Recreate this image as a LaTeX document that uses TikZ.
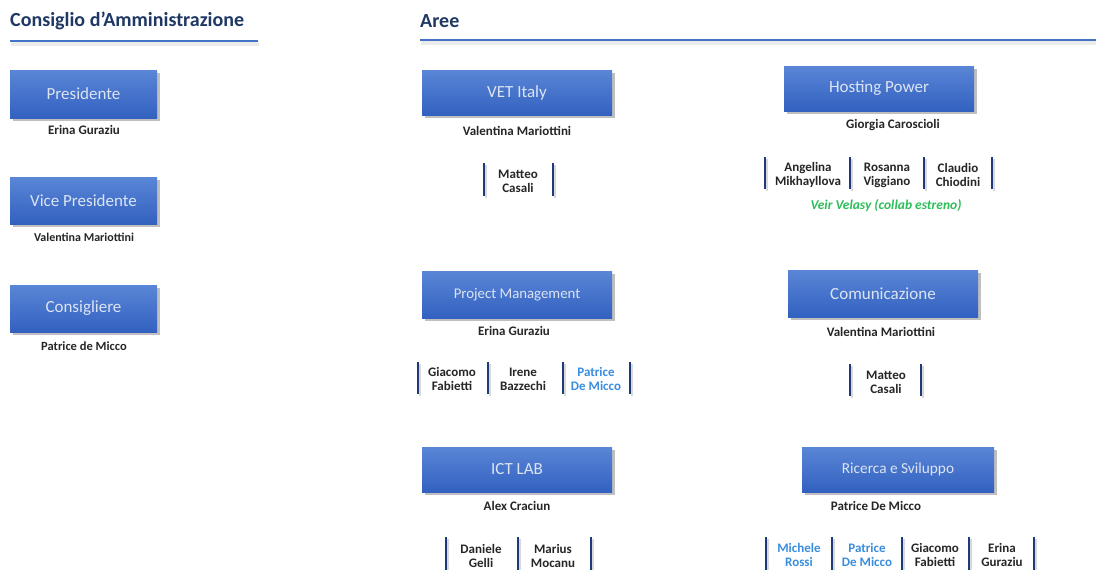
\documentclass[tikz,border=0pt]{standalone}
\usepackage{fontspec}
\setmainfont{Carlito}
\usetikzlibrary{shadows}
\definecolor{BoxTop}{HTML}{5A86D6}
\definecolor{BoxBot}{HTML}{3261C0}
\definecolor{BoxText}{HTML}{DCE4F2}
\definecolor{TitleCol}{HTML}{1F3864}
\definecolor{LineCol}{HTML}{4472C4}
\definecolor{BarCol}{HTML}{1F3A7A}
\definecolor{NameCol}{HTML}{262626}
\definecolor{BlueName}{HTML}{3A8DDE}
\definecolor{GreenName}{HTML}{2DBE5A}
\tikzset{
  areabox/.style={draw=none, top color=BoxTop, bottom color=BoxBot, text=BoxText,
    font=\fontsize{17}{19}\selectfont, inner sep=0pt,
    drop shadow={shadow xshift=2.5pt, shadow yshift=-2.5pt, fill=black, opacity=0.25}},
  who/.style={text=NameCol, font=\fontsize{13}{14}\bfseries\selectfont, inner sep=0pt},
  mem/.style={text=NameCol, font=\fontsize{13}{14}\bfseries\selectfont, inner sep=0pt, align=center},
  memblue/.style={mem, text=BlueName},
  bar/.style={draw=BarCol, line width=2.4pt},
  barshadow/.style={draw=black, opacity=0.15, line width=2.4pt},
  title/.style={text=TitleCol, font=\fontsize{20}{22}\bfseries\selectfont, inner sep=0pt, anchor=west},
  rule/.style={draw=LineCol, line width=2pt},
  ruleshadow/.style={draw=black, opacity=0.08, line width=4pt},
}
\newcommand{\membar}[3]{%
  \draw[barshadow] (#1+2,#2+2) -- (#1+2,#3+2);
  \draw[bar] (#1,#2) -- (#1,#3);}
\begin{document}
\begin{tikzpicture}[x=1pt,y=-1pt]
\useasboundingbox[fill=white] (0,0) rectangle (1096,570);

% titles
\node[title] (t1) at (10,21) {Consiglio d’Amministrazione};
\node[title] (t2) at (420,21) {Aree};
\draw[ruleshadow] (11,44) -- (259,44);
\draw[rule] (10,41) -- (258,41);
\draw[ruleshadow] (421,43) -- (1096,43);
\draw[rule] (420,40) -- (1096,40);

% left column
\node[areabox, minimum width=147, minimum height=48] (pres) at (83.5,94) {Presidente};
\node[who] (presn) at (84,130) {Erina Guraziu};
\node[areabox, minimum width=147, minimum height=47] (vice) at (83.5,200.5) {Vice Presidente};
\node[who, font=\fontsize{12}{14}\bfseries\selectfont] (vicen) at (84,237) {Valentina Mariottini};
\node[areabox, minimum width=147, minimum height=47] (cons) at (83.5,308.5) {Consigliere};
\node[who, font=\fontsize{12.5}{14}\bfseries\selectfont] (consn) at (84,346) {Patrice de Micco};

% VET Italy
\node[areabox, minimum width=190, minimum height=45] (vet) at (517,92.5) {VET Italy};
\node[who] (vetn) at (517,131) {Valentina Mariottini};
\membar{484}{163}{196}
\membar{553}{163}{196}
\node[mem] (vetm1) at (518,181) {Matteo\\Casali};

% Hosting Power
\node[areabox, minimum width=190, minimum height=45] (host) at (879,88.5) {Hosting Power};
\node[who] (hostn) at (893,125) {Giorgia Caroscioli};
\membar{765}{157}{189}
\membar{850}{157}{189}
\membar{924}{157}{189}
\membar{992}{157}{189}
\node[mem] (hostm1) at (808,175) {Angelina\\Mikhayllova};
\node[mem] (hostm2) at (887,175) {Rosanna\\Viggiano};
\node[mem] (hostm3) at (958,175) {Claudio\\Chiodini};
\node[who, text=GreenName, font=\fontsize{13.5}{14}\bfseries\itshape\selectfont] (hostc) at (886,206) {Veir Velasy (collab estreno)};

% Project Management
\node[areabox, minimum width=190, minimum height=47, font=\fontsize{14.8}{17}\selectfont] (pm) at (517,294.5) {Project Management};
\node[who] (pmn) at (514,331) {Erina Guraziu};
\membar{418}{362}{394}
\membar{488}{362}{394}
\membar{563}{362}{394}
\membar{630}{362}{394}
\node[mem] (pmm1) at (452,379) {Giacomo\\Fabietti};
\node[mem] (pmm2) at (523,379) {Irene\\Bazzechi};
\node[memblue] (pmm3) at (596,379) {Patrice\\De Micco};

% Comunicazione
\node[areabox, minimum width=190, minimum height=47] (com) at (883,293.5) {Comunicazione};
\node[who] (comn) at (881,332) {Valentina Mariottini};
\membar{850}{364}{396}
\membar{921}{364}{396}
\node[mem] (comm1) at (886,382) {Matteo\\Casali};

% ICT LAB
\node[areabox, minimum width=190, minimum height=45] (ict) at (517,469.5) {ICT LAB};
\node[who] (ictn) at (517,506) {Alex Craciun};
\membar{446}{537}{570}
\membar{518}{537}{570}
\membar{591}{537}{570}
\node[mem] (ictm1) at (481,556) {Daniele\\Gelli};
\node[mem] (ictm2) at (553,556) {Marius\\Mocanu};

% Ricerca e Sviluppo
\node[areabox, minimum width=192, minimum height=45, font=\fontsize{15.3}{17}\selectfont] (rs) at (898,469.5) {Ricerca e Sviluppo};
\node[who] (rsn) at (876,506) {Patrice De Micco};
\membar{766}{537}{570}
\membar{832}{537}{570}
\membar{902}{537}{570}
\membar{969}{537}{570}
\membar{1034}{537}{570}
\node[memblue] (rsm1) at (799,555) {Michele\\Rossi};
\node[memblue] (rsm2) at (867,555) {Patrice\\De Micco};
\node[mem] (rsm3) at (935,555) {Giacomo\\Fabietti};
\node[mem] (rsm4) at (1002,555) {Erina\\Guraziu};
\end{tikzpicture}
\end{document}
